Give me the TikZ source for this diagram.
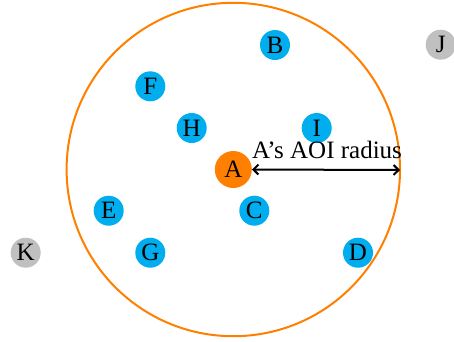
\documentclass[tikz,border=0pt]{standalone}
\usepackage{fontspec}
\setmainfont{Liberation Serif}
\usetikzlibrary{arrows.meta}
\definecolor{aoiorange}{RGB}{255,127,0}
\definecolor{peerblue}{RGB}{0,174,239}
\definecolor{outgray}{RGB}{192,192,192}
\begin{document}
\begin{tikzpicture}[x=1pt,y=-1pt,
  lettering/.style={font=\fontsize{25}{28}\selectfont},
  peer/.style={circle,fill=peerblue,minimum size=30pt,inner sep=0pt,lettering},
  outside/.style={circle,fill=outgray,minimum size=30pt,inner sep=0pt,lettering},
  self/.style={circle,fill=aoiorange,minimum size=37pt,inner sep=0pt,lettering}]
\useasboundingbox (0,0) rectangle (454,341);
\draw[aoiorange,line width=2pt] (233.3,169.5) circle (166.7);
\coordinate (edge) at (400,170);
\node[self] (A) at (233.3,169.5) {A};
\node[peer] (B) at (275,45) {B};
\node[peer] (F) at (150.3,86.3) {F};
\node[peer] (H) at (191.7,128) {H};
\node[peer] (I) at (316.7,128) {I};
\node[peer] (E) at (108.7,210.7) {E};
\node[peer] (C) at (254.3,210.7) {C};
\node[peer] (G) at (150.3,252.7) {G};
\node[peer] (D) at (358,252.7) {D};
\node[outside] (J) at (440.7,44.7) {J};
\node[outside] (K) at (25.7,252.7) {K};
\draw[{Straight Barb[length=5pt,width=10pt]}-{Straight Barb[length=5pt,width=10pt]},line width=2pt] (A.east) -- (edge);
\node[lettering,inner sep=0pt,anchor=base] (lbl) at (327,158) {A’s AOI radius};
\end{tikzpicture}
\end{document}
